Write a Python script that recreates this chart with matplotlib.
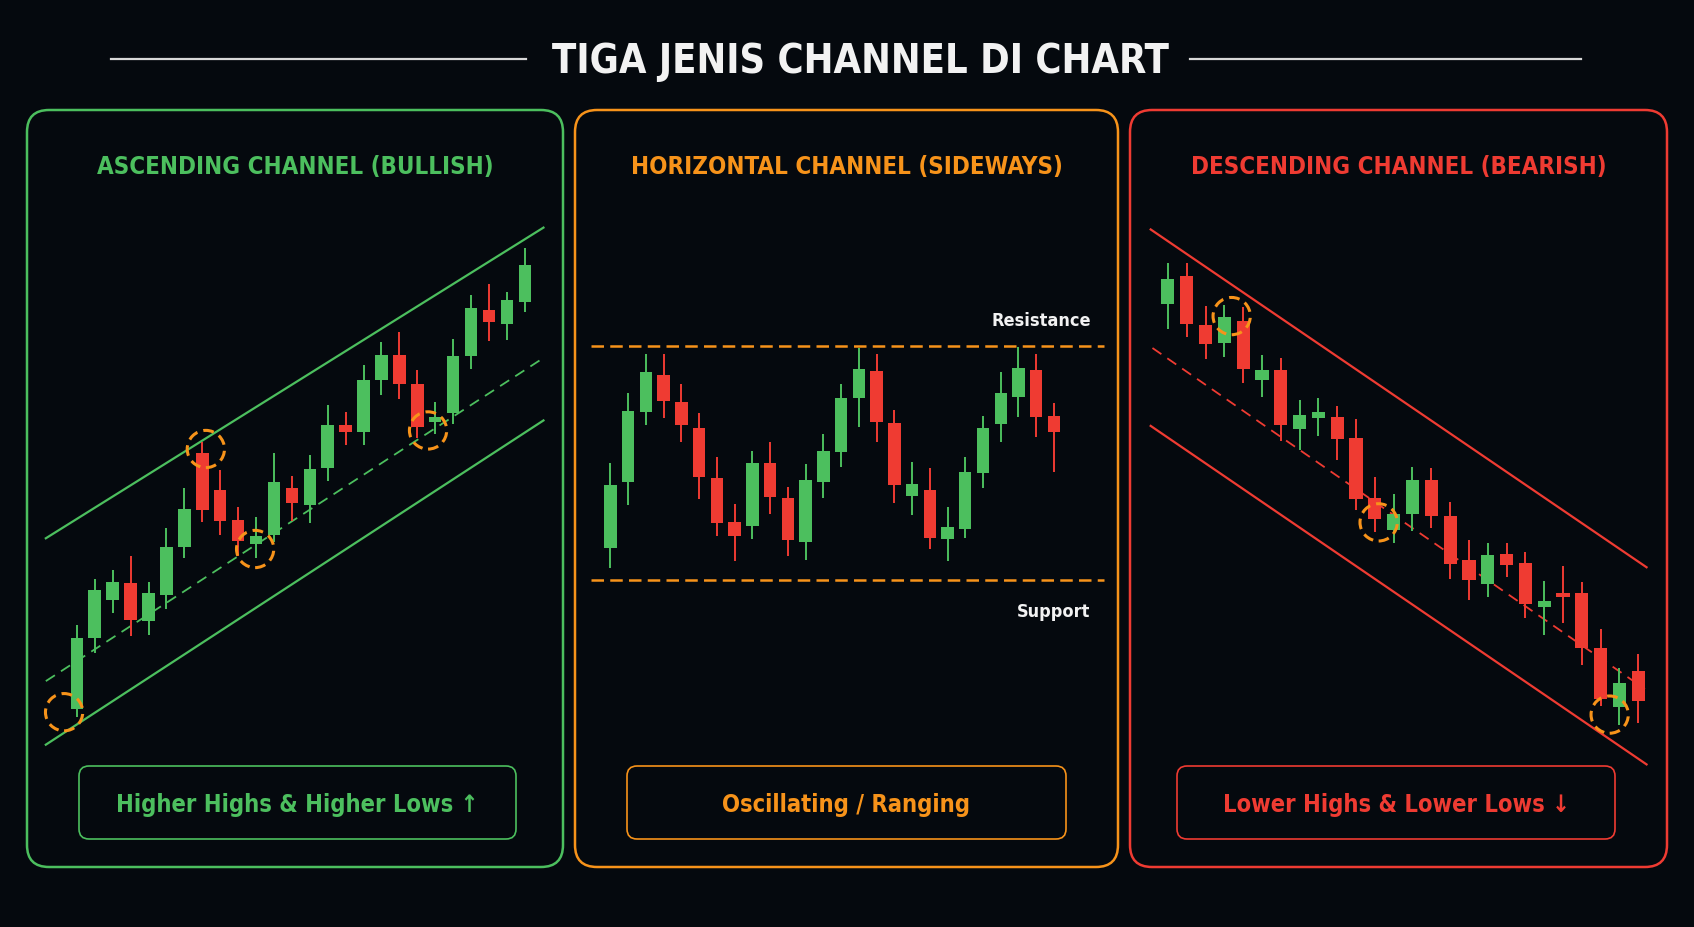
import matplotlib
matplotlib.use('Agg')

import matplotlib.pyplot as plt
import numpy as np
from matplotlib.patches import FancyBboxPatch

BG = '#05090e'
GREEN = '#4cbf5e'
RED = '#ef3b32'
ORANGE = '#f7931a'
WHITE = '#f2f2f2'
FONT = dict(family='DejaVu Sans', fontstretch='condensed', fontweight='bold')

# ---- ascending channel candles (open, high, low, close) ----
asc_open = [17.2, 37.2, 47.8, 52.5, 41.8, 49.0, 62.5, 88.8, 78.5, 70.0, 63.5, 65.8, 79.2,
            74.2, 84.8, 96.7, 94.7, 109.3, 116.3, 108.2, 97.7, 100.0, 116.0, 129.0, 125.0, 131.2]
asc_high = [40.8, 53.5, 56.0, 60.0, 52.8, 67.8, 79.0, 92.0, 84.0, 73.8, 71.0, 89.0, 82.5,
            88.2, 102.2, 100.5, 113.5, 120.0, 122.7, 112.0, 103.3, 120.7, 133.2, 136.3, 134.0, 146.2]
asc_low = [15.0, 33.0, 44.2, 37.5, 37.8, 45.2, 59.5, 69.7, 65.8, 60.0, 59.5, 64.0, 69.8,
           69.2, 81.0, 91.0, 91.0, 105.0, 104.0, 93.2, 94.2, 97.0, 112.5, 120.3, 120.5, 128.5]
asc_close = [37.0, 50.5, 52.7, 42.0, 49.8, 62.5, 73.3, 72.8, 69.8, 64.2, 65.5, 80.8, 74.8,
             84.5, 96.8, 94.8, 109.3, 116.3, 108.2, 96.3, 99.0, 116.0, 129.5, 125.5, 131.7, 141.5]
asc_line_x = [-1.73, 26.04]
asc_upper = [65, 152]
asc_mid = [25, 115.5]
asc_lower = [7.2, 98]
asc_touch_x = [-0.71, 7.2, 9.95, 19.6]
asc_touch_y = [16.3, 90, 62, 95.2]

# ---- horizontal channel candles ----
hor_open = [19.4, 39.0, 60.2, 71.2, 63.2, 55.4, 40.4, 27.0, 26.0, 44.8, 34.4, 21.0, 39.0,
            48.1, 64.2, 72.3, 56.7, 35.0, 36.7, 22.0, 25.0, 41.9, 56.5, 64.7, 72.8, 58.9]
hor_high = [44.8, 65.7, 77.4, 77.6, 68.4, 59.8, 46.7, 32.5, 48.3, 51.2, 37.7, 44.4, 53.5,
            68.4, 79.2, 77.4, 60.7, 45.0, 43.2, 31.5, 46.7, 58.8, 72.2, 79.5, 77.5, 62.7]
hor_low = [13.2, 32.2, 56.2, 58.2, 51.0, 34.0, 22.8, 15.5, 22.0, 29.5, 17.0, 15.7, 34.3,
           43.7, 55.7, 51.2, 32.7, 29.2, 19.0, 15.5, 22.4, 37.4, 51.2, 58.7, 52.6, 42.2]
hor_close = [38.2, 60.5, 72.0, 63.4, 56.2, 40.6, 26.8, 23.0, 44.9, 34.5, 21.8, 39.7, 48.3,
             64.4, 73.0, 57.2, 38.3, 38.4, 22.4, 25.7, 42.0, 55.3, 65.7, 73.2, 58.6, 54.1]
hor_line_x = [-1.07, 27.8]
resistance = 80.0
support = 9.7

# ---- descending channel candles ----
desc_open = [135.8, 143.7, 129.8, 124.5, 131.0, 114.2, 117.0, 100.2, 103.2, 103.4, 97.5, 80.4, 71.2,
             75.8, 85.7, 75.2, 62.7, 56.0, 64.5, 61.8, 49.5, 53.5, 53.5, 37.8, 21.0, 31.2]
desc_high = [147.5, 147.3, 135.2, 135.5, 134.8, 121.2, 120.3, 108.3, 109.0, 106.8, 103.0, 86.3, 81.7,
             89.3, 89.0, 79.3, 68.5, 67.5, 67.7, 65.0, 56.7, 61.0, 56.5, 43.0, 32.0, 36.0]
desc_low = [128.5, 126.2, 120.0, 120.5, 113.2, 109.2, 96.8, 94.2, 98.2, 91.2, 77.0, 70.7, 67.5,
            71.0, 71.8, 57.3, 51.3, 52.2, 57.8, 46.2, 41.3, 44.8, 32.8, 21.2, 15.8, 16.2]
desc_close = [143.0, 130.0, 124.3, 132.0, 117.2, 117.0, 101.3, 104.0, 105.0, 97.2, 80.3, 74.5, 76.0,
              85.7, 75.3, 61.7, 57.0, 64.3, 61.3, 50.2, 51.2, 52.2, 37.8, 23.2, 27.7, 22.7]
desc_line_x = [-0.915, 25.44]
desc_upper = [157, 60.7]
desc_lower = [101, 4.5]
desc_mid_x = [-0.82, 25.35]
desc_mid = [123.2, 26.0]
desc_touch_x = [3.39, 11.2, 23.48]
desc_touch_y = [132.3, 73.5, 18.7]

W, H = 1694, 928
fig = plt.figure(figsize=(W / 100, H / 100), dpi=100, facecolor=BG)

# overlay in pixel units for frames and labels
bg = fig.add_axes([0, 0, 1, 1])
bg.set_xlim(0, W)
bg.set_ylim(H, 0)
bg.axis('off')
bg.set_facecolor(BG)

bg.text(860, 62, 'TIGA JENIS CHANNEL DI CHART', color=WHITE, fontsize=28.5,
        ha='center', va='center', **FONT)
bg.plot([111, 526], [59.5, 59.5], color='#d8d8d8', lw=1.6)
bg.plot([1190, 1581], [59.5, 59.5], color='#d8d8d8', lw=1.6)

panels = [
    (27, 563, GREEN, 'ASCENDING CHANNEL (BULLISH)', 79, 516, 'Higher Highs & Higher Lows \u2191'),
    (575, 1118, ORANGE, 'HORIZONTAL CHANNEL (SIDEWAYS)', 627, 1066, 'Oscillating / Ranging'),
    (1130, 1667, RED, 'DESCENDING CHANNEL (BEARISH)', 1177, 1615, 'Lower Highs & Lower Lows \u2193'),
]
for x0, x1, col, title, bx0, bx1, label in panels:
    bg.add_patch(FancyBboxPatch((x0, 111), x1 - x0, 757, boxstyle='round,pad=0,rounding_size=22',
                                fc='none', ec=col, lw=1.8))
    bg.text((x0 + x1) / 2, 167, title, color=col, fontsize=17.3,
            ha='center', va='center', **FONT)
    bg.add_patch(FancyBboxPatch((bx0, 767), bx1 - bx0, 73, boxstyle='round,pad=0,rounding_size=10',
                                fc='none', ec=col, lw=1.2))
    bg.text((bx0 + bx1) / 2, 805, label, color=col, fontsize=17,
            ha='center', va='center', **FONT)


def place(x0, dx, y0, dy, xlim, ylim):
    left = x0 + dx * xlim[0]
    right = x0 + dx * xlim[1]
    bottom = y0 - dy * ylim[0]
    top = y0 - dy * ylim[1]
    ax = fig.add_axes([left / W, 1 - bottom / H, (right - left) / W, (bottom - top) / H])
    ax.set_xlim(xlim)
    ax.set_ylim(ylim)
    ax.axis('off')
    ax.patch.set_alpha(0)
    return ax


def candles(ax, o, h, l, c):
    o, h, l, c = map(np.array, (o, h, l, c))
    x = np.arange(len(o))
    cols = np.where(c >= o, GREEN, RED)
    ax.vlines(x, l, h, colors=cols, lw=1.4, zorder=3)
    body = np.maximum(np.abs(c - o), 1.2)
    ax.bar(x, body, bottom=np.minimum(o, c), width=0.7, color=cols, zorder=4)


def touches(ax, xs, ys):
    ax.scatter(xs, ys, s=720, facecolors='none', edgecolors=ORANGE, linewidths=2.2,
               linestyles=(0, (3.5, 2)), zorder=6)


# ascending
ax1 = place(76.82, 17.92, 771.4, 3.571, (-2.0, 26.5), (0, 165))
ax1.plot(asc_line_x, asc_upper, color=GREEN, lw=1.6)
ax1.plot(asc_line_x, asc_lower, color=GREEN, lw=1.6)
ax1.plot(asc_line_x, asc_mid, color=GREEN, lw=1.3, dashes=(6, 4))
candles(ax1, asc_open, asc_high, asc_low, asc_close)
touches(ax1, asc_touch_x, asc_touch_y)

# horizontal
ax2 = place(610.47, 17.74, 613.3, 3.333, (-1.5, 28.5), (-10, 95))
ax2.plot(hor_line_x, [resistance] * 2, color=ORANGE, lw=1.8, dashes=(5, 2.5))
ax2.plot(hor_line_x, [support] * 2, color=ORANGE, lw=1.8, dashes=(5, 2.5))
candles(ax2, hor_open, hor_high, hor_low, hor_close)
ax2.text(27.06, resistance + 7.8, 'Resistance', color=WHITE, fontsize=13,
         ha='right', va='center', **FONT)
ax2.text(27.06, support - 9.2, 'Support', color=WHITE, fontsize=13,
         ha='right', va='center', **FONT)

# descending
ax3 = place(1167.9, 18.815, 781.2, 3.508, (-1.5, 26), (0, 165))
ax3.plot(desc_line_x, desc_upper, color=RED, lw=1.6)
ax3.plot(desc_line_x, desc_lower, color=RED, lw=1.6)
ax3.plot(desc_mid_x, desc_mid, color=RED, lw=1.3, dashes=(6, 4))
candles(ax3, desc_open, desc_high, desc_low, desc_close)
touches(ax3, desc_touch_x, desc_touch_y)

fig.savefig('out.png', dpi=100, facecolor=BG)
